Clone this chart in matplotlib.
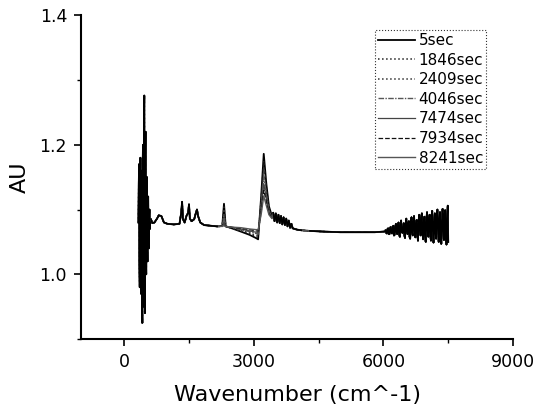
import matplotlib
matplotlib.use("Agg")
import matplotlib.pyplot as plt
from matplotlib.ticker import MultipleLocator

plt.rcParams['font.family'] = ['DejaVu Sans']

# ---- data ----
labels = ['5sec', '1846sec', '2409sec', '4046sec', '7474sec', '7934sec', '8241sec']

# strong noisy band at low wavenumber (shared by all spectra)
spike_x = [330, 337.5, 345, 352.5, 360, 367.5, 375, 382.5, 390, 397.5, 405,
           412.5, 420, 427.5, 435, 442.5, 450, 457.5, 465, 472.5, 480, 487.5,
           495, 502.5, 510, 517.5, 525, 532.5, 540, 547.5, 555, 562.5, 570,
           577.5, 585, 592.5, 600]
spike_y = [1.08, 1.14, 1.17, 1.02, 0.98, 1.15, 1.18, 1.00, 0.97, 1.16, 1.12,
           0.96, 0.925, 1.17, 1.20, 0.99, 0.95, 1.24, 1.276, 0.97, 0.94, 1.19,
           1.22, 1.02, 1.00, 1.13, 1.15, 1.04, 1.02, 1.11, 1.12, 1.05, 1.04,
           1.09, 1.10, 1.07, 1.08]

# fingerprint region (shared)
mid_x = [620, 650, 700, 760, 800, 860, 920, 1000, 1150, 1280, 1320, 1340, 1360,
         1400, 1440, 1480, 1500, 1520, 1560, 1620, 1660, 1685, 1710, 1760,
         1850, 2000, 2150]
mid_y = [1.085, 1.079, 1.080, 1.086, 1.091, 1.090, 1.080, 1.078, 1.077, 1.078,
         1.095, 1.112, 1.085, 1.080, 1.090, 1.095, 1.108, 1.086, 1.082, 1.085,
         1.095, 1.100, 1.090, 1.080, 1.076, 1.075, 1.074]

# region that changes with time
seg_x = [2200, 2270, 2310, 2350, 2450, 2700, 2900, 3050, 3100, 3170, 3230,
         3290, 3350, 3420]
y_5 = [1.074, 1.075, 1.109, 1.074, 1.072, 1.066, 1.061, 1.056, 1.054, 1.120, 1.186, 1.140, 1.105, 1.090]
y_1846 = [1.074, 1.075, 1.104, 1.074, 1.072, 1.067, 1.063, 1.058, 1.057, 1.115, 1.175, 1.134, 1.102, 1.089]
y_2409 = [1.074, 1.075, 1.098, 1.074, 1.072, 1.068, 1.064, 1.060, 1.060, 1.110, 1.163, 1.128, 1.100, 1.088]
y_4046 = [1.074, 1.074, 1.090, 1.074, 1.073, 1.069, 1.066, 1.063, 1.062, 1.105, 1.150, 1.122, 1.098, 1.088]
y_7474 = [1.074, 1.074, 1.080, 1.074, 1.073, 1.070, 1.067, 1.065, 1.065, 1.100, 1.140, 1.117, 1.096, 1.087]
y_7934 = [1.074, 1.074, 1.076, 1.074, 1.073, 1.071, 1.069, 1.067, 1.067, 1.096, 1.130, 1.112, 1.094, 1.087]
y_8241 = [1.074, 1.074, 1.075, 1.074, 1.073, 1.072, 1.070, 1.069, 1.069, 1.092, 1.121, 1.106, 1.092, 1.086]
seg_series = [y_5, y_1846, y_2409, y_4046, y_7474, y_7934, y_8241]

# noisy tail after the 3200 band (shared)
tail_x = [3450, 3480, 3510, 3540, 3570, 3600, 3630, 3660, 3690, 3720, 3750,
          3780, 3810, 3840, 3870, 3900, 3950, 4000, 4100]
tail_y = [1.095, 1.082, 1.094, 1.080, 1.092, 1.079, 1.090, 1.077, 1.088, 1.076,
          1.086, 1.074, 1.083, 1.072, 1.078, 1.071, 1.070, 1.069, 1.068]

# flat part
flat_x = [4300, 4600, 5000, 5400, 5800, 6020]
flat_y = [1.067, 1.066, 1.065, 1.065, 1.065, 1.066]

# noisy high-wavenumber end (shared)
hi_x = [6050, 6065, 6080, 6095, 6110, 6125, 6140, 6155, 6170, 6185, 6200, 6215,
        6230, 6245, 6260, 6275, 6290, 6305, 6320, 6335, 6350, 6365, 6380, 6395,
        6410, 6425, 6440, 6455, 6470, 6485, 6500, 6515, 6530, 6545, 6560, 6575,
        6590, 6605, 6620, 6635, 6650, 6665, 6680, 6695, 6710, 6725, 6740, 6755,
        6770, 6785, 6800, 6815, 6830, 6845, 6860, 6875, 6890, 6905, 6920, 6935,
        6950, 6965, 6980, 6995, 7010, 7025, 7040, 7055, 7070, 7085, 7100, 7115,
        7130, 7145, 7160, 7175, 7190, 7205, 7220, 7235, 7250, 7265, 7280, 7295,
        7310, 7325, 7340, 7355, 7370, 7385, 7400, 7415, 7430, 7445, 7460, 7475,
        7490, 7500]
hi_y = [1.068, 1.064, 1.063, 1.070, 1.071, 1.062, 1.062, 1.072, 1.073, 1.064,
        1.063, 1.071, 1.075, 1.060, 1.061, 1.074, 1.078, 1.065, 1.062, 1.076,
        1.080, 1.061, 1.058, 1.077, 1.083, 1.066, 1.064, 1.072, 1.079, 1.060,
        1.056, 1.078, 1.086, 1.067, 1.062, 1.080, 1.082, 1.058, 1.055, 1.081,
        1.088, 1.064, 1.060, 1.085, 1.090, 1.066, 1.057, 1.079, 1.084, 1.061,
        1.052, 1.083, 1.092, 1.070, 1.060, 1.088, 1.094, 1.062, 1.054, 1.081,
        1.089, 1.058, 1.050, 1.085, 1.096, 1.068, 1.058, 1.087, 1.092, 1.061,
        1.052, 1.090, 1.098, 1.066, 1.049, 1.080, 1.094, 1.063, 1.055, 1.091,
        1.100, 1.070, 1.050, 1.086, 1.096, 1.064, 1.047, 1.082, 1.101, 1.069,
        1.053, 1.093, 1.099, 1.060, 1.046, 1.088, 1.106, 1.050]

styles = [
    ('black', '-', 1.3),
    ('#222222', ':', 1.1),
    ('#333333', ':', 1.1),
    ('#555555', (0, (4, 1, 1, 1)), 1.0),
    ('#444444', '-', 0.9),
    ('#111111', '--', 0.9),
    ('#555555', '-', 1.0),
]

fig = plt.figure(figsize=(5.35, 4.12), dpi=100)
ax = fig.add_axes([0.1514, 0.177, 0.8075, 0.786])

for lab, sy, (c, ls, lw) in zip(labels, seg_series, styles):
    xs = spike_x + mid_x + seg_x + tail_x + flat_x + hi_x
    ys = spike_y + mid_y + sy + tail_y + flat_y + hi_y
    ax.plot(xs, ys, color=c, linestyle=ls, linewidth=lw, label=lab)

# redraw noisy parts solid so they read as a dark band
for xs, ys in [(spike_x, spike_y), (hi_x, hi_y), (tail_x, tail_y),
               (mid_x, mid_y), (flat_x, flat_y)]:
    ax.plot(xs, ys, color='black', linewidth=1.2)

ax.set_xlim(-1000, 9000)
ax.set_ylim(0.9, 1.4)
ax.xaxis.set_major_locator(MultipleLocator(3000))
ax.xaxis.set_minor_locator(MultipleLocator(1500))
ax.yaxis.set_minor_locator(MultipleLocator(0.1))
ax.set_yticks([1.0, 1.2, 1.4])
ax.set_yticklabels(['1.0', '1.2', '1.4'])
ax.tick_params(which='major', direction='out', length=5, width=1.2,
               labelsize=12.5, pad=5)
ax.tick_params(which='minor', direction='out', length=3, width=1.0)

for s in ['top', 'right']:
    ax.spines[s].set_visible(False)
for s in ['left', 'bottom']:
    ax.spines[s].set_linewidth(1.5)

ax.set_xlabel('Wavenumber (cm^-1)', fontsize=16, labelpad=10)
ax.set_ylabel('AU', fontsize=16, labelpad=7)

leg = ax.legend(loc='upper left', bbox_to_anchor=(375 / 535, 1 - 30 / 412),
                bbox_transform=fig.transFigure, fontsize=11, frameon=True,
                fancybox=False, borderpad=0.2, labelspacing=0.3,
                handlelength=2.4, handletextpad=0.25, borderaxespad=0)
leg.get_frame().set_edgecolor('black')
leg.get_frame().set_linewidth(0.8)
leg.get_frame().set_linestyle(':')

plt.savefig('out.png', dpi=100)
